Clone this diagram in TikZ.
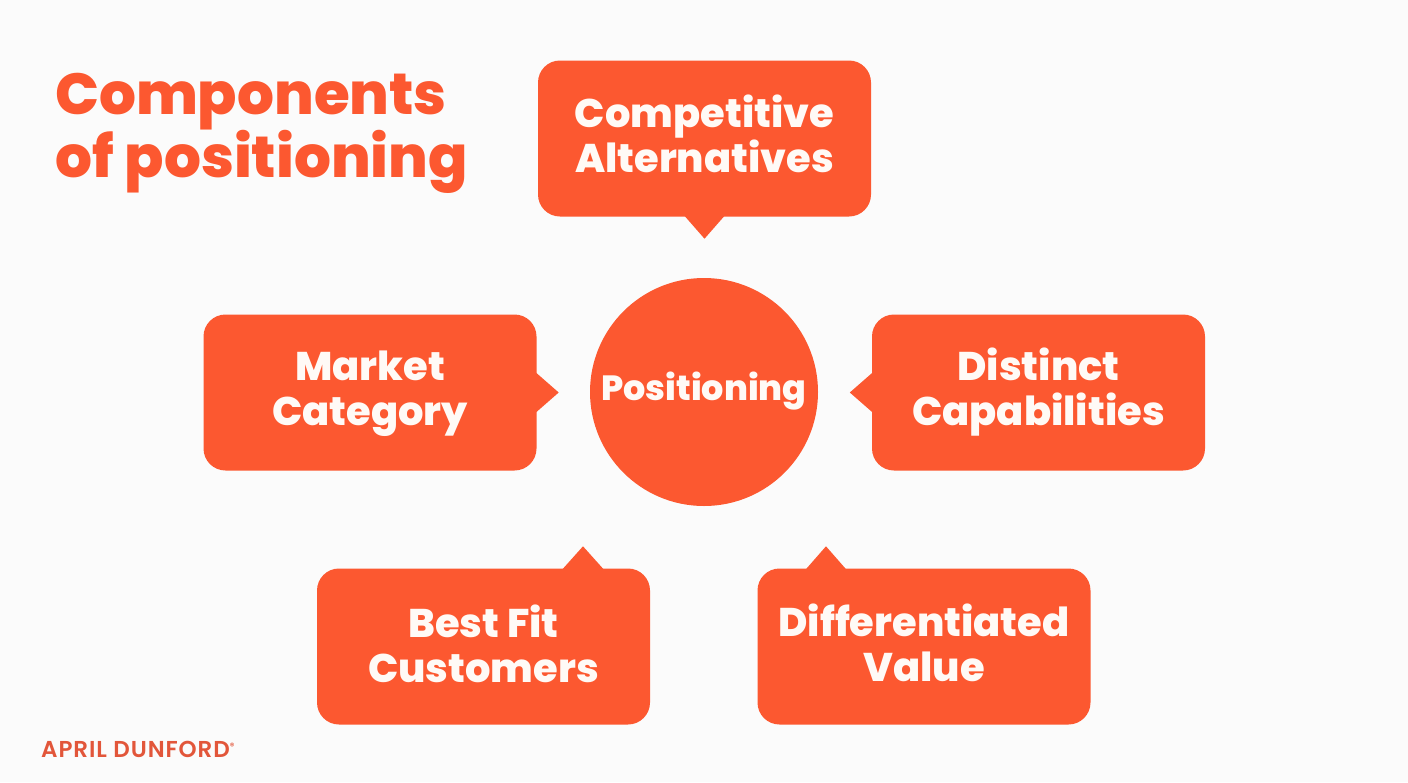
\documentclass[tikz,border=0pt]{standalone}
\usepackage{fontspec}
\setmainfont{Poppins}[BoldFont={Poppins ExtraBold}]
\newfontfamily\logofont{Poppins}[UprightFont={Poppins SemiBold},LetterSpace=4]
\usetikzlibrary{calc}
\definecolor{brand}{RGB}{252,88,48}
\definecolor{logo}{RGB}{226,86,58}
\definecolor{bg}{RGB}{251,251,251}
\definecolor{txt}{RGB}{255,250,246}
\newcommand{\shiftup}[2]{\raisebox{#1}[\height][\depth]{\parbox{330pt}{\centering #2}}}
\begin{document}
\begin{tikzpicture}[x=1pt,y=-1pt,
  callout/.style={fill=brand, draw=none, rounded corners=22pt, minimum width=333pt, minimum height=156pt,
    text=txt, align=center, font=\fontsize{40}{45}\selectfont\bfseries, inner sep=0pt},
  tip/.style={fill=brand, draw=none},
  hub/.style={circle, fill=brand, draw=none, minimum size=228pt, inner sep=0pt, text=txt,
    font=\fontsize{35}{40}\selectfont\bfseries}]
\fill[bg] (0,0) rectangle (1408,782);
\useasboundingbox (0,0) rectangle (1408,782);

\node[anchor=north west, text=brand, align=left, inner sep=0pt,
  font=\fontsize{58}{63}\selectfont\bfseries] (title) at (55,73) {Components\\of positioning};

\node[hub] (pos) at (704,392) {\raisebox{1pt}[\height][\depth]{Positioning}};

\node[callout] (ca) at (704.5,138.5) {\shiftup{5pt}{Competitive\\Alternatives}};
\node[callout] (mc) at (370,392.5) {\shiftup{-1pt}{Market\\Category}};
\node[callout] (dc) at (1038.5,392.5) {Distinct\\Capabilities};
\node[callout] (bf) at (483.5,646.5) {\shiftup{3pt}{Best Fit\\Customers}};
\node[callout] (dv) at (924,646.5) {\shiftup{4pt}{Differentiated\\Value}};

\fill[tip] ($(ca.south)+(-21,-2)$) -- ($(ca.south)+(0,22)$) -- ($(ca.south)+(21,-2)$) -- cycle;
\fill[tip] ($(mc.east)+(-2,-21)$) -- ($(mc.east)+(22,0)$) -- ($(mc.east)+(-2,21)$) -- cycle;
\fill[tip] ($(dc.west)+(2,-21)$) -- ($(dc.west)+(-22,0)$) -- ($(dc.west)+(2,21)$) -- cycle;
\fill[tip] ($(bf.north)+(78,2)$) -- ($(bf.north)+(99.5,-22)$) -- ($(bf.north)+(121,2)$) -- cycle;
\fill[tip] ($(dv.north)+(-119,2)$) -- ($(dv.north)+(-98,-22)$) -- ($(dv.north)+(-77,2)$) -- cycle;

\node[anchor=base west, text=logo, inner sep=0pt, font=\logofont\fontsize{23}{25}\selectfont] (brandname) at (41,757)
  {APRIL DUNFORD\raisebox{8pt}{\fontsize{9}{9}\selectfont ®}};
\end{tikzpicture}
\end{document}
